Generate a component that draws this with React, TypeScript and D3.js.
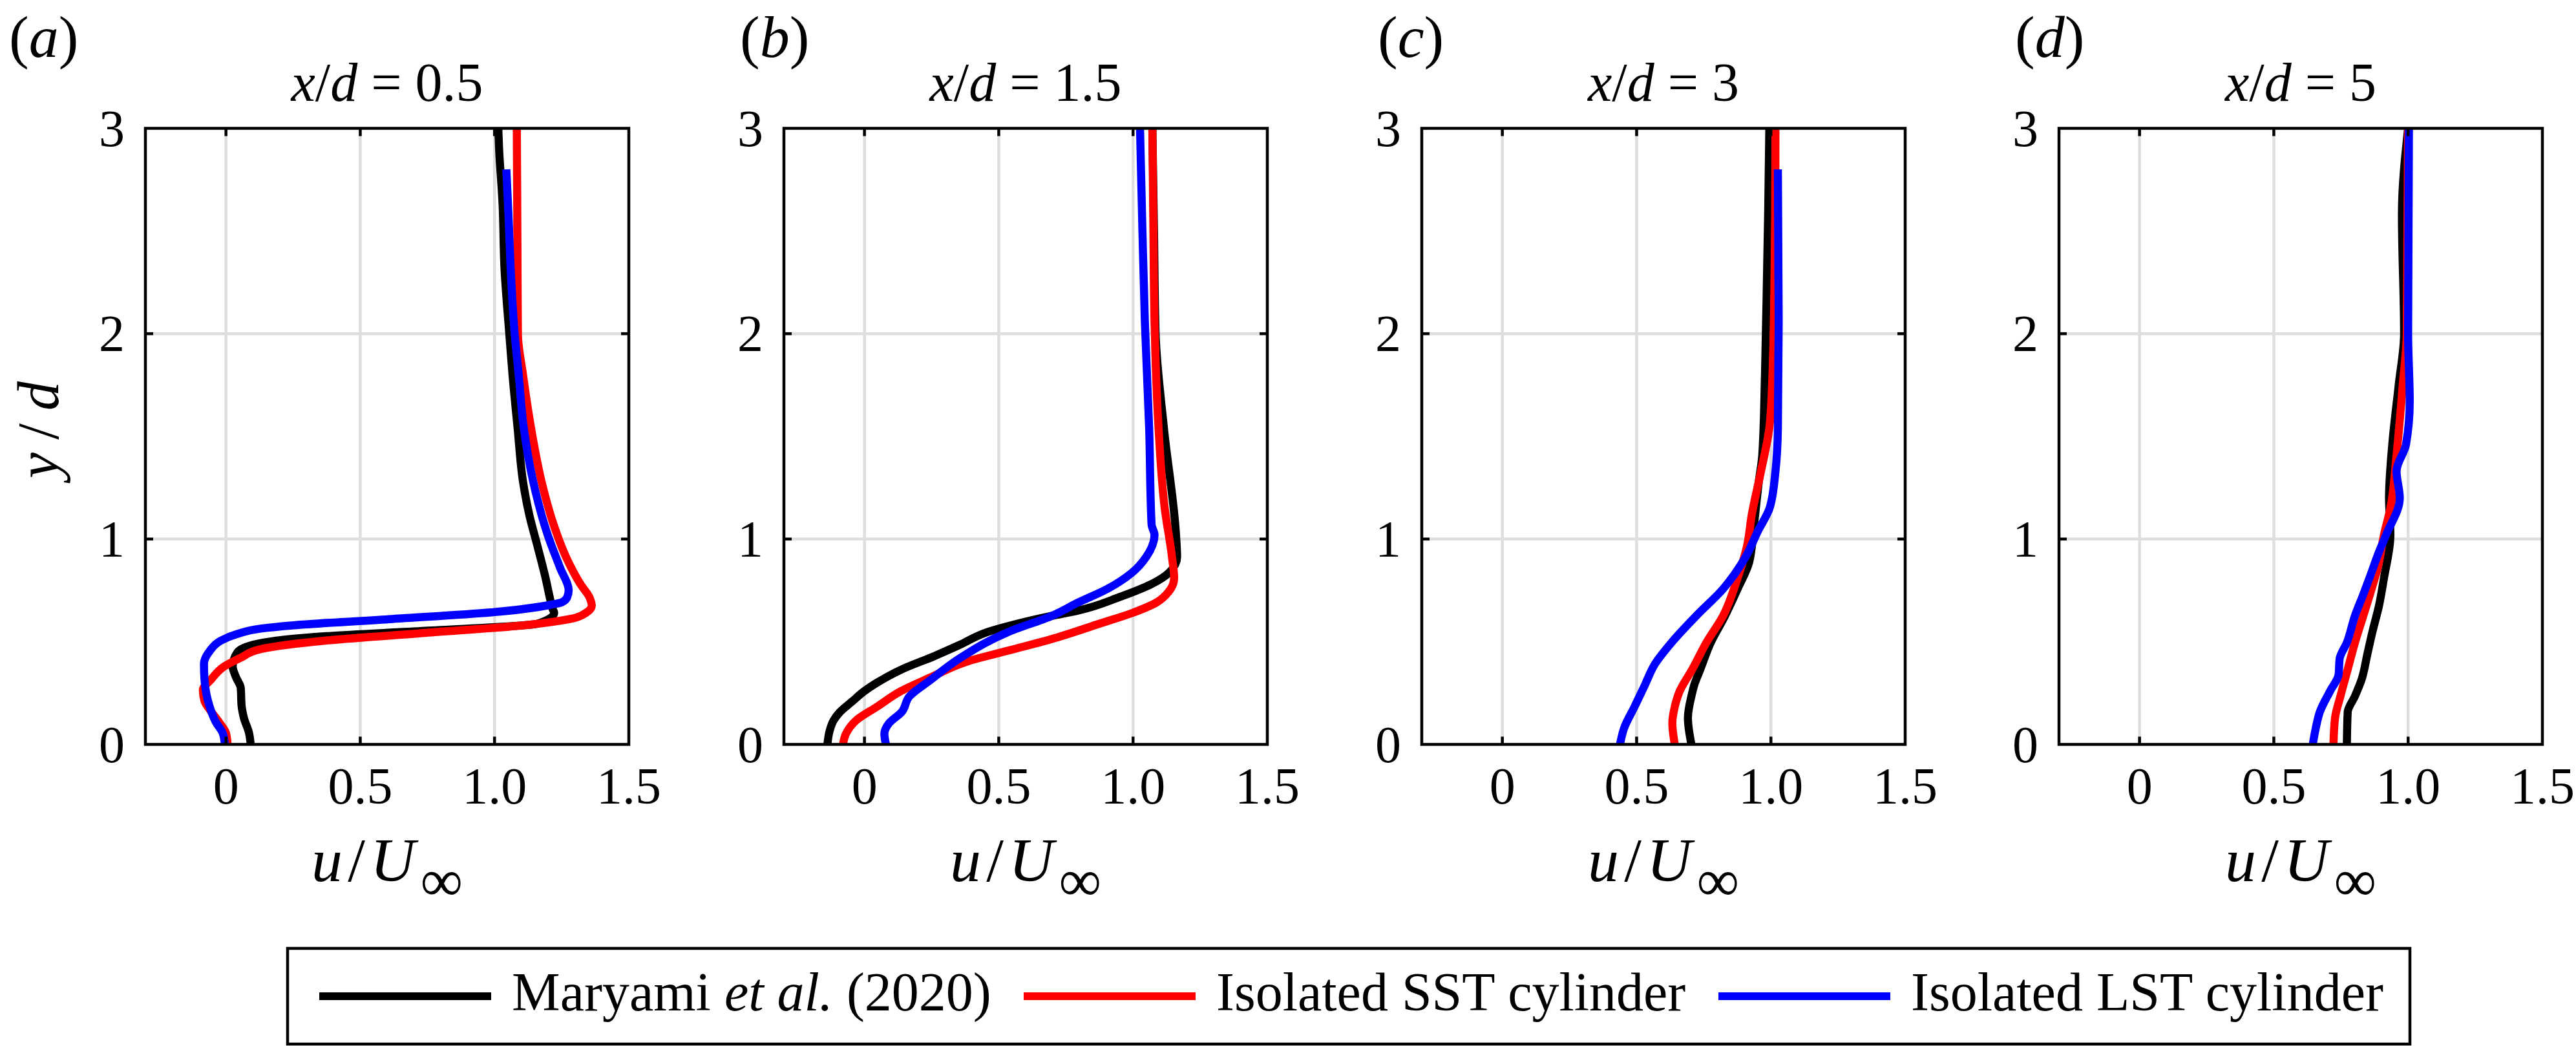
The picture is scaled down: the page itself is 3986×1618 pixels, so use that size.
import React from 'react';
import * as d3 from 'd3';

// u/U_inf (first) against y/d (second)
const maryamiA: [number, number][] = [
  [1.014, 3.0], [1.017, 2.9], [1.03, 2.63], [1.037, 2.32], [1.055, 2.0], [1.067, 1.8],
  [1.086, 1.54], [1.106, 1.28], [1.129, 1.12], [1.16, 0.965], [1.19, 0.81], [1.205, 0.72],
  [1.215, 0.664], [1.222, 0.64], [1.16, 0.588], [0.742, 0.553], [0.374, 0.527], [0.117, 0.49],
  [0.043, 0.449], [0.025, 0.38], [0.037, 0.328], [0.055, 0.275], [0.058, 0.19], [0.067, 0.128],
  [0.086, 0.055], [0.092, 0],
];
const sstA: [number, number][] = [
  [1.083, 3.0], [1.085, 2.5], [1.087, 2.0], [1.106, 1.8], [1.136, 1.54], [1.175, 1.28],
  [1.22, 1.07], [1.267, 0.91], [1.32, 0.78], [1.354, 0.715], [1.362, 0.675], [1.343, 0.643],
  [1.282, 0.611], [1.11, 0.58], [0.742, 0.543], [0.374, 0.506], [0.129, 0.464], [0.055, 0.422],
  [-0.006, 0.38], [-0.055, 0.317], [-0.086, 0.265], [-0.08, 0.212], [-0.055, 0.16],
  [-0.025, 0.107], [0, 0.055], [0.006, 0],
];
const lstA: [number, number][] = [
  [1.044, 2.8], [1.052, 2.58], [1.06, 2.32], [1.075, 2.0], [1.09, 1.8], [1.109, 1.54],
  [1.144, 1.28], [1.198, 1.02], [1.244, 0.86], [1.276, 0.75], [1.27, 0.715], [1.25, 0.692],
  [1.209, 0.68], [0.988, 0.643], [0.62, 0.611], [0.252, 0.58], [0.129, 0.564], [0.043, 0.538],
  [-0.018, 0.506], [-0.061, 0.454], [-0.082, 0.391], [-0.08, 0.317], [-0.067, 0.212],
  [-0.037, 0.107], [-0.012, 0.055], [-0.004, 0],
];

const maryamiB: [number, number][] = [
  [1.072, 3.0], [1.078, 2.5], [1.084, 2.0], [1.115, 1.54], [1.16, 1.02], [1.164, 0.913],
  [1.133, 0.835], [1.072, 0.783], [0.949, 0.717], [0.796, 0.652], [0.697, 0.626], [0.567, 0.587],
  [0.46, 0.548], [0.352, 0.483], [0.26, 0.43], [0.138, 0.365], [0.046, 0.3], [0, 0.26],
  [-0.046, 0.209], [-0.092, 0.157], [-0.115, 0.117], [-0.13, 0.065], [-0.138, 0],
];
const sstB: [number, number][] = [
  [1.072, 3.0], [1.076, 2.5], [1.08, 2.06], [1.095, 1.54], [1.118, 1.15], [1.145, 0.913],
  [1.153, 0.81], [1.133, 0.744], [1.087, 0.691], [0.995, 0.639], [0.873, 0.587], [0.72, 0.522],
  [0.536, 0.457], [0.383, 0.404], [0.245, 0.326], [0.138, 0.261], [0.046, 0.183],
  [-0.031, 0.117], [-0.069, 0.052], [-0.08, 0],
];
const lstB: [number, number][] = [
  [1.026, 3.0], [1.035, 2.5], [1.044, 2.06], [1.06, 1.54], [1.069, 1.07], [1.08, 1.02],
  [1.049, 0.913], [0.995, 0.835], [0.904, 0.757], [0.796, 0.691], [0.697, 0.626], [0.536, 0.548],
  [0.352, 0.417], [0.245, 0.313], [0.168, 0.235], [0.138, 0.157], [0.092, 0.104], [0.074, 0.052],
  [0.08, 0],
];

const maryamiC: [number, number][] = [
  [0.994, 3.0], [0.99, 2.6], [0.986, 2.32], [0.978, 1.8], [0.968, 1.41], [0.955, 1.28],
  [0.937, 1.07], [0.919, 0.887], [0.876, 0.757], [0.829, 0.626], [0.776, 0.496], [0.737, 0.365],
  [0.714, 0.287], [0.704, 0.235], [0.691, 0.13], [0.704, 0],
];
const sstC: [number, number][] = [
  [1.017, 3.0], [1.016, 2.6], [1.014, 2.32], [1.006, 1.8], [0.994, 1.54], [0.963, 1.33],
  [0.929, 1.12], [0.911, 0.965], [0.876, 0.81], [0.822, 0.626], [0.76, 0.496], [0.707, 0.365],
  [0.661, 0.261], [0.642, 0.183], [0.633, 0.104], [0.642, 0],
];
const lstC: [number, number][] = [
  [1.026, 2.8], [1.029, 2.06], [1.026, 1.54], [1.017, 1.33], [0.995, 1.15], [0.952, 1.04],
  [0.906, 0.913], [0.822, 0.757], [0.722, 0.626], [0.63, 0.496], [0.568, 0.391], [0.53, 0.287],
  [0.492, 0.183], [0.453, 0.078], [0.438, 0],
];

const maryamiD: [number, number][] = [
  [1.0, 3.0], [0.977, 2.58], [0.985, 2.0], [0.965, 1.75], [0.941, 1.46], [0.929, 1.2],
  [0.934, 1.02], [0.91, 0.81], [0.892, 0.678], [0.867, 0.548], [0.849, 0.444], [0.826, 0.313],
  [0.802, 0.235], [0.775, 0.157], [0.772, 0],
];
const sstD: [number, number][] = [
  [1.0, 3.0], [0.995, 2.0], [0.98, 1.75], [0.957, 1.41], [0.934, 1.15], [0.91, 1.02],
  [0.887, 0.861], [0.864, 0.757], [0.833, 0.626], [0.802, 0.496], [0.775, 0.365], [0.748, 0.235],
  [0.728, 0.13], [0.722, 0],
];
const lstD: [number, number][] = [
  [1.003, 3.0], [1.0, 2.0], [1.006, 1.67], [0.992, 1.46], [0.957, 1.33], [0.969, 1.2],
  [0.918, 1.02], [0.892, 0.939], [0.856, 0.81], [0.833, 0.73], [0.802, 0.626], [0.772, 0.496],
  [0.745, 0.417], [0.741, 0.339], [0.71, 0.261], [0.671, 0.157], [0.656, 0.078], [0.645, 0],
];

const panelLetters = ['a', 'b', 'c', 'd'];
const stations = ['0.5', '1.5', '3', '5'];
const seriesNames = ['Maryami', 'Isolated SST cylinder', 'Isolated LST cylinder'];
const seriesColors = ['#000000', '#ff0000', '#0000ff'];
const panelSeries = [
  [maryamiA, sstA, lstA],
  [maryamiB, sstB, lstB],
  [maryamiC, sstC, lstC],
  [maryamiD, sstD, lstD],
];
const xTicks = [0, 0.5, 1.0, 1.5];
const xTickLabels = ['0', '0.5', '1.0', '1.5'];
const yTicks = [0, 1, 2, 3];

const W = 3986;
const H = 1618;
const panelLeft = [225, 1213, 2200, 3186];
const panelW = 748;
const top = 198.5;
const bottom = 1151.5;
const font = "'Liberation Serif', 'Times New Roman', serif";
const grid = '#dedede';

const Panel: React.FC<{ i: number }> = ({ i }) => {
  const left = panelLeft[i];
  const x = d3.scaleLinear().domain([-0.3, 1.5]).range([left, left + panelW]);
  const y = d3.scaleLinear().domain([0, 3]).range([bottom, top]);
  const line = d3.line<[number, number]>()
    .x(d => x(d[0]))
    .y(d => y(d[1]))
    .curve(d3.curveMonotoneY);
  const cx = left + panelW / 2;
  const tick = 12;
  const labelX = i === 0 ? 14 : left - 68;

  return (
    <g>
      {/* grid */}
      {xTicks.filter(t => t < 1.5).map(t => (
        <line key={'gx' + t} x1={x(t)} x2={x(t)} y1={top} y2={bottom} stroke={grid} strokeWidth={4.5} />
      ))}
      {yTicks.filter(t => t > 0 && t < 3).map(t => (
        <line key={'gy' + t} x1={left} x2={left + panelW} y1={y(t)} y2={y(t)} stroke={grid} strokeWidth={4.5} />
      ))}

      {/* profiles */}
      {panelSeries[i].map((s, k) => (
        <path key={k} d={line(s) || ''} fill="none" stroke={seriesColors[k]} strokeWidth={12.5}
          strokeLinejoin="round" strokeLinecap="butt" />
      ))}

      {/* box and ticks */}
      <rect x={left} y={top} width={panelW} height={bottom - top} fill="none" stroke="#000" strokeWidth={4.5} />
      {xTicks.filter(t => t < 1.5).map(t => (
        <g key={'tx' + t}>
          <line x1={x(t)} x2={x(t)} y1={bottom} y2={bottom - tick} stroke="#000" strokeWidth={4.5} />
          <line x1={x(t)} x2={x(t)} y1={top} y2={top + tick} stroke="#000" strokeWidth={4.5} />
        </g>
      ))}
      {yTicks.filter(t => t > 0 && t < 3).map(t => (
        <g key={'ty' + t}>
          <line x1={left} x2={left + tick} y1={y(t)} y2={y(t)} stroke="#000" strokeWidth={4.5} />
          {i < 3 && (
            <line x1={left + panelW} x2={left + panelW - tick} y1={y(t)} y2={y(t)} stroke="#000" strokeWidth={4.5} />
          )}
        </g>
      ))}

      {/* tick labels */}
      {xTicks.map((t, k) => (
        <text key={'lx' + t} x={x(t)} y={1243} textAnchor="middle" fontSize={80} fontFamily={font}>
          {xTickLabels[k]}
        </text>
      ))}
      {yTicks.map(t => (
        <text key={'ly' + t} x={left - 32} y={y(t) + 27} textAnchor="end" fontSize={80} fontFamily={font}>
          {t}
        </text>
      ))}

      {/* title */}
      <text x={cx} y={156} textAnchor="middle" fontSize={84} fontFamily={font}>
        <tspan fontStyle="italic">x</tspan>
        <tspan>/</tspan>
        <tspan fontStyle="italic">d</tspan>
        <tspan> = {stations[i]}</tspan>
      </text>

      {/* x label */}
      <text x={cx} y={1363} textAnchor="middle" fontSize={96} fontFamily={font} textLength={234} lengthAdjust="spacing">
        <tspan fontStyle="italic">u</tspan>
        <tspan>/</tspan>
        <tspan fontStyle="italic">U</tspan>
        <tspan fontSize={92} dy={30}>∞</tspan>
      </text>

      {/* panel letter */}
      <text x={labelX} y={88} fontSize={92} fontFamily={font}>
        (<tspan fontStyle="italic">{panelLetters[i]}</tspan>)
      </text>
    </g>
  );
};

const Legend: React.FC = () => {
  const box = { x: 445, y: 1467, w: 3284, h: 148 };
  const entryX = [494, 1584, 2659];
  const sample = 266;
  const cy = box.y + box.h / 2;
  return (
    <g>
      <rect x={box.x} y={box.y} width={box.w} height={box.h} fill="#fff" stroke="#000" strokeWidth={4.5} />
      {seriesNames.map((name, k) => (
        <g key={name}>
          <line x1={entryX[k]} x2={entryX[k] + sample} y1={cy} y2={cy} stroke={seriesColors[k]} strokeWidth={12} />
          <text x={entryX[k] + sample + 32} y={cy + 22} fontSize={84} fontFamily={font}>
            {k === 0 ? (
              <>
                {name} <tspan fontStyle="italic">et al.</tspan> (2020)
              </>
            ) : name}
          </text>
        </g>
      ))}
    </g>
  );
};

const App: React.FC = () => {
  return (
    <svg width={W} height={H} viewBox={`0 0 ${W} ${H}`}
      style={{ position: 'absolute', left: 0, top: 0, background: '#fff' }}>
      <rect width={W} height={H} fill="#fff" />
      {panelLetters.map((_, i) => <Panel key={i} i={i} />)}

      {/* y label, only on the first panel */}
      <text transform="translate(90,665) rotate(-90)" textAnchor="middle" fontSize={90} fontFamily={font}
        textLength={150} lengthAdjust="spacing">
        <tspan fontStyle="italic">y</tspan>
        <tspan>/</tspan>
        <tspan fontStyle="italic">d</tspan>
      </text>

      <Legend />
    </svg>
  );
};

export default App;
